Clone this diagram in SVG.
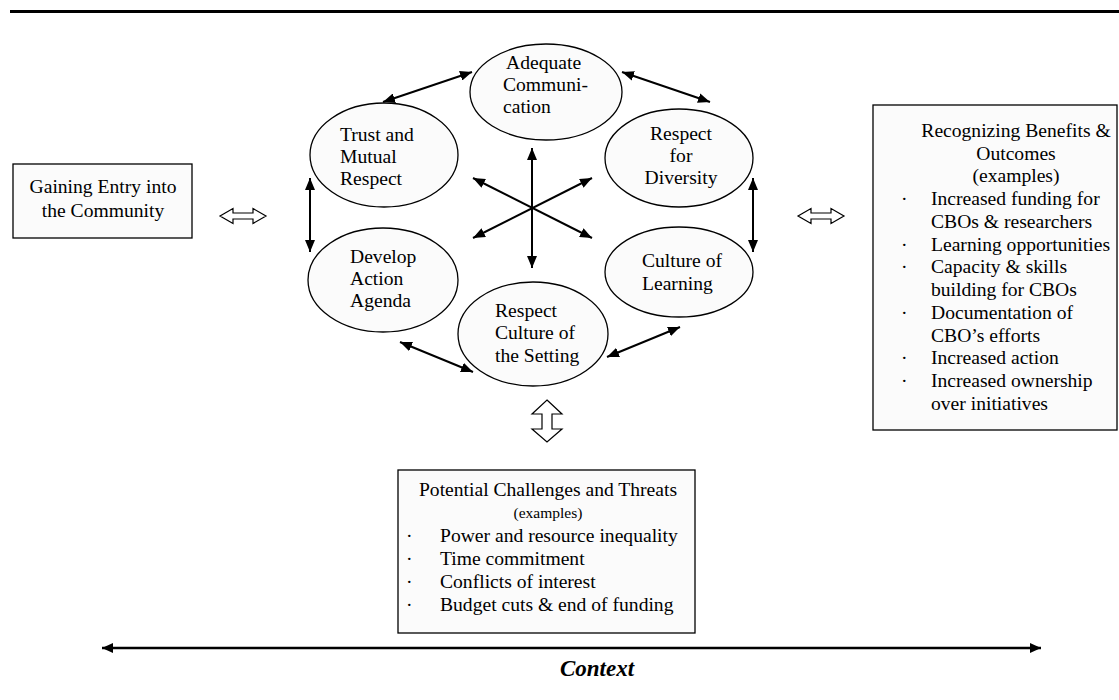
<svg xmlns="http://www.w3.org/2000/svg" width="1119" height="700" viewBox="0 0 1119 700">
<style>
text{font-family:"Liberation Serif","Times New Roman",serif;font-size:19.6px;fill:#000}
.sm{font-size:15.5px}
.ctx{font-size:23px;font-weight:bold;font-style:italic}
.mid{text-anchor:middle}
.box{fill:#fbfbfb;stroke:#000;stroke-width:1.3}
.ell{fill:#fbfbfb;stroke:#000;stroke-width:1.3}
.con{stroke:#000;stroke-width:2;fill:none;marker-start:url(#ah);marker-end:url(#ah)}
.hollow{fill:#fff;stroke:#000;stroke-width:1.2}
</style>
<defs>
<marker id="ah" markerUnits="userSpaceOnUse" markerWidth="12" markerHeight="10" refX="12" refY="5" orient="auto-start-reverse">
<path d="M0,0 L12,5 L0,10 z" fill="#000"/>
</marker>
<marker id="ah2" markerUnits="userSpaceOnUse" markerWidth="11" markerHeight="10" refX="11" refY="5" orient="auto-start-reverse">
<path d="M0,0 L11,5 L0,10 z" fill="#000"/>
</marker>
</defs>
<rect width="1119" height="700" fill="#fff"/>
<line x1="10" y1="11.5" x2="1119" y2="11.5" stroke="#000" stroke-width="3"/>

<g id="gaining-entry">
<rect class="box" x="13" y="164" width="179" height="74"/>
<text class="mid" x="103" y="193">Gaining Entry into</text>
<text class="mid" x="103" y="217">the Community</text>
</g>

<g id="adequate-communication">
<ellipse class="ell" cx="546" cy="92" rx="76" ry="48"/>
<text x="506" y="69">Adequate</text>
<text x="503" y="91">Communi-</text>
<text x="503" y="113">cation</text>
</g>

<g id="trust-mutual-respect">
<ellipse class="ell" cx="384" cy="155" rx="74" ry="52"/>
<text x="340" y="141">Trust and</text>
<text x="340" y="163">Mutual</text>
<text x="340" y="185">Respect</text>
</g>

<g id="respect-diversity">
<ellipse class="ell" cx="679" cy="158" rx="74" ry="49"/>
<text class="mid" x="681" y="140">Respect</text>
<text class="mid" x="681" y="162">for</text>
<text class="mid" x="681" y="184">Diversity</text>
</g>

<g id="develop-action-agenda">
<ellipse class="ell" cx="383" cy="280" rx="75" ry="52"/>
<text x="350" y="263">Develop</text>
<text x="350" y="285">Action</text>
<text x="350" y="307">Agenda</text>
</g>

<g id="culture-learning">
<ellipse class="ell" cx="679" cy="272" rx="74" ry="45"/>
<text x="642" y="267">Culture of</text>
<text x="642" y="290">Learning</text>
</g>

<g id="respect-culture-setting">
<ellipse class="ell" cx="533" cy="334" rx="75" ry="52"/>
<text x="495" y="317">Respect</text>
<text x="495" y="339">Culture of</text>
<text x="495" y="362">the Setting</text>
</g>

<g id="benefits-outcomes">
<rect class="box" x="873" y="105" width="244" height="325"/>
<text class="mid" x="1016" y="137">Recognizing Benefits &amp;</text>
<text class="mid" x="1016" y="160">Outcomes</text>
<text class="mid" x="1016" y="182">(examples)</text>
<text x="901" y="205">·</text><text x="931" y="205">Increased funding for</text>
<text x="931" y="228">CBOs &amp; researchers</text>
<text x="901" y="251">·</text><text x="931" y="251">Learning opportunities</text>
<text x="901" y="273">·</text><text x="931" y="273">Capacity &amp; skills</text>
<text x="931" y="296">building for CBOs</text>
<text x="901" y="319">·</text><text x="931" y="319">Documentation of</text>
<text x="931" y="342">CBO’s efforts</text>
<text x="901" y="364">·</text><text x="931" y="364">Increased action</text>
<text x="901" y="387">·</text><text x="931" y="387">Increased ownership</text>
<text x="931" y="410">over initiatives</text>
</g>

<g id="challenges-threats">
<rect class="box" x="398" y="470" width="297" height="163"/>
<text class="mid" x="548" y="496">Potential Challenges and Threats</text>
<text class="mid sm" x="548" y="518">(examples)</text>
<text x="406" y="542">·</text><text x="440" y="542">Power and resource inequality</text>
<text x="406" y="565">·</text><text x="440" y="565">Time commitment</text>
<text x="406" y="588">·</text><text x="440" y="588">Conflicts of interest</text>
<text x="406" y="611">·</text><text x="440" y="611">Budget cuts &amp; end of funding</text>
</g>

<g id="context">
<line x1="102" y1="648" x2="1041" y2="648" stroke="#000" stroke-width="2.6" marker-start="url(#ah2)" marker-end="url(#ah2)"/>
<text class="ctx" x="597" y="676" text-anchor="middle">Context</text>
</g>

<g id="connectors">
<line class="con" x1="383" y1="102" x2="472" y2="72"/>
<line class="con" x1="622" y1="72" x2="710" y2="102"/>
<line class="con" x1="310" y1="178" x2="310" y2="252"/>
<line class="con" x1="753" y1="178" x2="753" y2="252"/>
<line class="con" x1="400" y1="342" x2="473" y2="372"/>
<line class="con" x1="607" y1="357" x2="680" y2="327"/>
<line class="con" x1="532" y1="148" x2="532" y2="268"/>
<line class="con" x1="473" y1="178" x2="592" y2="238"/>
<line class="con" x1="592" y1="178" x2="473" y2="238"/>
<polygon class="hollow" points="220,216 233,208.5 233,213 253,213 253,208.5 266,216 253,223.5 253,219 233,219 233,223.5"/>
<polygon class="hollow" points="798,216 811,208.5 811,213 831,213 831,208.5 844,216 831,223.5 831,219 811,219 811,223.5"/>
<polygon class="hollow" points="547,400 562,414 552,414 552,429 562,429 547,442 532,429 542,429 542,414 532,414"/>
</g>
</svg>
